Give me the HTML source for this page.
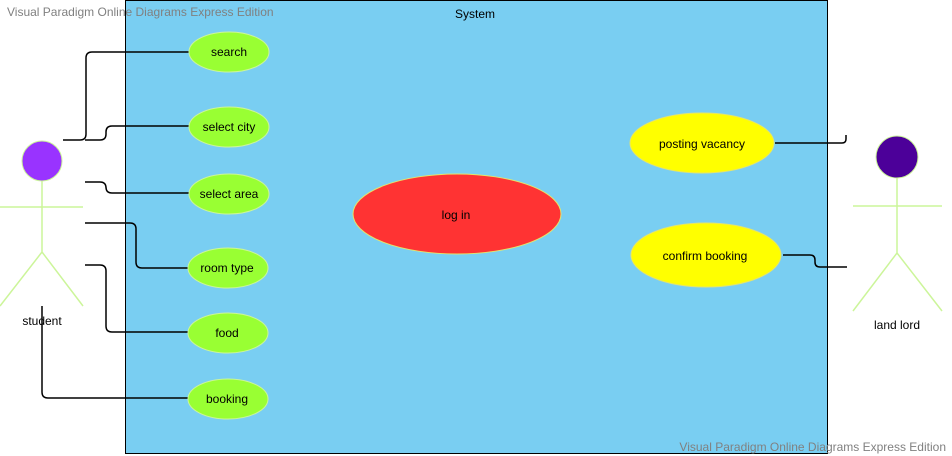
<!DOCTYPE html>
<html><head><style>body{margin:0;background:#fff}svg{display:block}text{font-family:"Liberation Sans",Arial,sans-serif;font-size:12px}</style></head>
<body>
<svg width="952" height="456" viewBox="0 0 952 456" xmlns="http://www.w3.org/2000/svg">
<rect x="125.5" y="0.5" width="702" height="453" fill="#79cef2" stroke="#000"/>
<text x="475" y="18" text-anchor="middle">System</text>
<text x="7" y="16" fill="#808080">Visual Paradigm Online Diagrams Express Edition</text>
<text x="946" y="451" fill="#808080" text-anchor="end">Visual Paradigm Online Diagrams Express Edition</text>
<g fill="none" stroke="#000" stroke-width="1.5">
<path d="M63 140 H80 Q86 140 86 134 V58 Q86 52 92 52 H190"/>
<path d="M85 140 H100 Q106 140 106 134 V132 Q106 126 112 126 H190"/>
<path d="M85 182 H100 Q106 182 106 188 V187 Q106 193 112 193 H190"/>
<path d="M85 223 H130 Q136 223 136 229 V262 Q136 268 142 268 H190"/>
<path d="M85 265 H100 Q106 265 106 271 V326 Q106 332 112 332 H190"/>
<path d="M42 306 V392 Q42 398 48 398 H190"/>
<path d="M775 143 H842 Q846 143 846 139 V135"/>
<path d="M783 255 H810 Q815 255 815 260 V262 Q815 267 820 267 H847"/>
</g>
<g stroke="#ccf59a" stroke-width="1.5" fill="none">
<path d="M42 181 V252 M0 207 H83 M42 252 L0 306 M42 252 L83 306"/>
<path d="M897 178 V253 M853 206 H942 M897 253 L853 311 M897 253 L942 311"/>
</g>
<circle cx="42" cy="161" r="20" fill="#9933ff" stroke="#ccf59a"/>
<circle cx="897" cy="157" r="21" fill="#4c0099" stroke="#ccf59a"/>
<text x="42" y="325" text-anchor="middle">student</text>
<text x="897" y="329" text-anchor="middle">land lord</text>
<g fill="#99ff33" stroke="#ccf59a">
<ellipse cx="229" cy="52" rx="40" ry="20"/>
<ellipse cx="229" cy="127" rx="40" ry="20"/>
<ellipse cx="229" cy="194" rx="40" ry="20"/>
<ellipse cx="228" cy="268" rx="40" ry="20"/>
<ellipse cx="228" cy="333" rx="40" ry="20"/>
<ellipse cx="228" cy="399" rx="40" ry="20"/>
</g>
<ellipse cx="457" cy="214" rx="104" ry="40" fill="#ff3333" stroke="#e5e56a"/>
<ellipse cx="702" cy="143" rx="72" ry="30" fill="#ffff00" stroke="#e5e56a"/>
<ellipse cx="706" cy="255" rx="75" ry="32" fill="#ffff00" stroke="#e5e56a"/>
<g text-anchor="middle">
<text x="229" y="56">search</text>
<text x="229" y="131">select city</text>
<text x="229" y="198">select area</text>
<text x="227" y="272">room type</text>
<text x="227" y="337">food</text>
<text x="227" y="403">booking</text>
<text x="456" y="219">log in</text>
<text x="702" y="148">posting vacancy</text>
<text x="705" y="260">confirm booking</text>
</g>
</svg>
</body></html>
